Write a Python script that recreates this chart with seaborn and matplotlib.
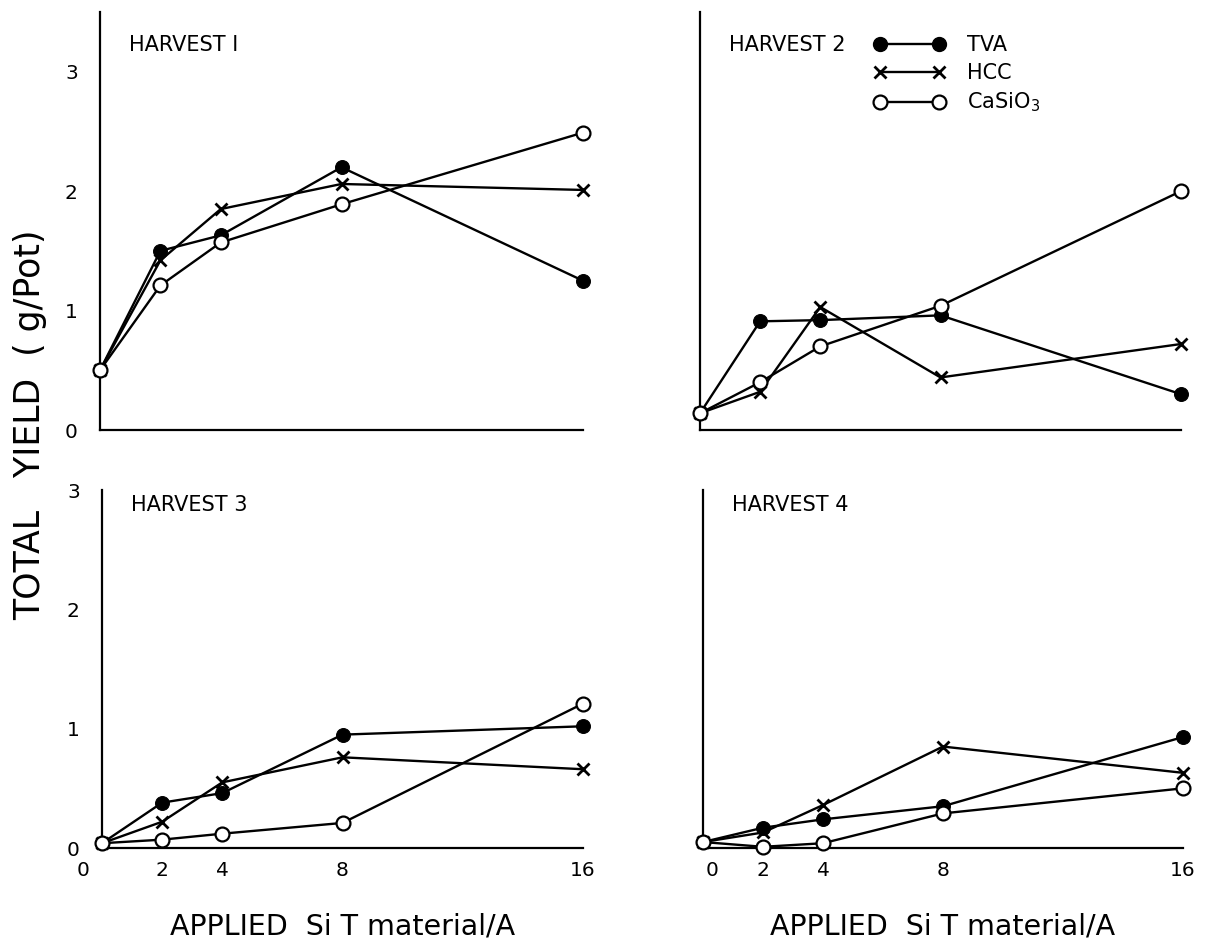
import numpy as np
import pandas as pd
import matplotlib
matplotlib.use("Agg")
import matplotlib.pyplot as plt
import matplotlib.transforms as mtransforms
import seaborn as sns
from matplotlib.lines import Line2D

sns.set_theme(style="white")
plt.rcParams['font.family'] = ['DejaVu Sans']
plt.rcParams['text.color'] = 'black'
plt.rcParams['axes.labelcolor'] = 'black'

rates = [0, 2, 4, 8, 16]
series_names = ["TVA", "HCC", "CaSiO$_3$"]
harvests = ["HARVEST I", "HARVEST 2", "HARVEST 3", "HARVEST 4"]

# yields (g/Pot)
h1_tva = [0.50, 1.50, 1.63, 2.20, 1.25]
h1_hcc = [0.50, 1.42, 1.85, 2.06, 2.01]
h1_cas = [0.50, 1.21, 1.57, 1.89, 2.49]

h2_tva = [0.14, 0.91, 0.92, 0.96, 0.30]
h2_hcc = [0.14, 0.32, 1.03, 0.44, 0.72]
h2_cas = [0.14, 0.40, 0.70, 1.04, 2.00]

h3_tva = [0.04, 0.38, 0.46, 0.95, 1.02]
h3_hcc = [0.04, 0.22, 0.55, 0.76, 0.66]
h3_cas = [0.04, 0.07, 0.12, 0.21, 1.21]

h4_tva = [0.05, 0.17, 0.24, 0.35, 0.93]
h4_hcc = [0.05, 0.13, 0.36, 0.85, 0.63]
h4_cas = [0.05, 0.01, 0.04, 0.29, 0.50]

panel_data = [
    (h1_tva, h1_hcc, h1_cas),
    (h2_tva, h2_hcc, h2_cas),
    (h3_tva, h3_hcc, h3_cas),
    (h4_tva, h4_hcc, h4_cas),
]

styles = {
    "TVA": dict(marker="o", markersize=10, markerfacecolor="black", markeredgecolor="black"),
    "HCC": dict(marker="x", markersize=9, markeredgewidth=2.0, markeredgecolor="black"),
    "CaSiO$_3$": dict(marker="o", markersize=10, markerfacecolor="white", markeredgecolor="black", markeredgewidth=1.6),
}

fig = plt.figure(figsize=(12.09, 9.49), dpi=100)
W, H = 1209, 949
# (left px, right px, top px, bottom px, ymax)
boxes = [
    (100, 583, 12, 430, 3.5),
    (700, 1181, 12, 430, 3.5),
    (102, 583, 490, 848, 3.0),
    (703, 1183, 490, 848, 3.0),
]
zero_label_shift = {2: -19, 3: 9}

for i, (l, r, t, b, ymax) in enumerate(boxes):
    ax = fig.add_axes([l / W, 1 - b / H, (r - l) / W, (b - t) / H])
    rows = []
    for name, vals in zip(series_names, panel_data[i]):
        for x, y in zip(rates, vals):
            rows.append({"rate": x, "yield": y, "material": name})
    df = pd.DataFrame(rows)
    for name in series_names:
        sub = df[df["material"] == name]
        sns.lineplot(data=sub, x="rate", y="yield", ax=ax, color="black",
                     linewidth=1.7, clip_on=False, zorder=3, **styles[name])
    ax.set_xlim(0, 16)
    ax.set_ylim(0, ymax)
    ax.set_xlabel("")
    ax.set_ylabel("")
    for s in ["top", "right"]:
        ax.spines[s].set_visible(False)
    for s in ["left", "bottom"]:
        ax.spines[s].set_color("black")
        ax.spines[s].set_linewidth(1.6)
    ax.set_xticks(rates)
    yt = [0, 1, 2, 3] + ([3.5] if ymax > 3 else [])
    ax.set_yticks(yt)
    ax.tick_params(axis="both", direction="in", length=9, width=1.4,
                   colors="black", labelsize=14.5)
    ax.tick_params(axis="y", pad=16)
    ax.tick_params(axis="x", pad=9)
    if i in (0, 2):
        ax.set_yticklabels(["0", "1", "2", "3"] + ([""] if ymax > 3 else []))
    else:
        ax.set_yticklabels([""] * len(yt))
    if i in (2, 3):
        ax.set_xticklabels([str(v) for v in rates])
        ax.set_xlabel("APPLIED  Si T material/A", fontsize=20.5, labelpad=24)
        lab0 = ax.get_xticklabels()[0]
        lab0.set_transform(lab0.get_transform() + mtransforms.ScaledTranslation(
            zero_label_shift[i] / 100, 0, fig.dpi_scale_trans))
    else:
        ax.set_xticklabels([""] * len(rates))
    ty = (b - (45 if i < 2 else 505)) / (b - t)
    ax.text(0.06, ty, harvests[i], transform=ax.transAxes,
            fontsize=15, va="center", ha="left")
    if ax.get_legend() is not None:
        ax.get_legend().remove()
    if i == 1:
        handles = [Line2D([], [], color="black", linewidth=1.7, **styles[n]) for n in series_names]
        ax.legend(handles, series_names, numpoints=2, frameon=False,
                  loc="upper left", bbox_to_anchor=(0.362, 0.945),
                  handlelength=3.4, fontsize=15, labelspacing=0.38,
                  handletextpad=1.08, borderaxespad=0, borderpad=0)

fig.text(30 / W, 1 - 425 / H, "TOTAL   YIELD  ( g/Pot)", rotation=90,
         fontsize=25, va="center", ha="center")

fig.savefig("out.png", dpi=100, facecolor="white")
